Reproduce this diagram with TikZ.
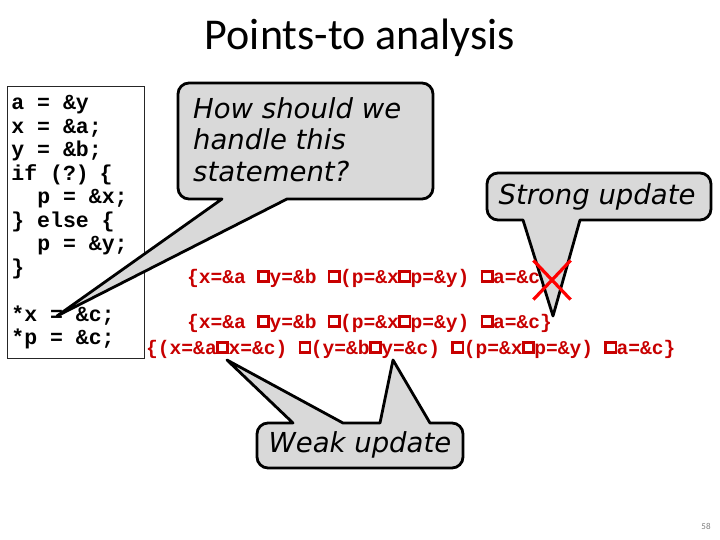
\documentclass[tikz,border=0pt]{standalone}
\usepackage{fontspec}
\setmainfont{Carlito}
\newfontfamily\codefont{Liberation Mono}
\newfontfamily\handfont{DejaVu Sans}
\usetikzlibrary{shapes.misc}

\definecolor{bubblegray}{RGB}{217,217,217}
\definecolor{setred}{RGB}{200,0,0}
% the empty square that stands for the missing glyph
\newcommand{\sq}{\makebox[0.6em][c]{\raisebox{0.14em}{\setlength{\fboxsep}{0pt}%
  \setlength{\fboxrule}{0.14em}\fbox{\rule{0pt}{0.38em}\hspace{0.38em}}}}}

\tikzset{
  codebox/.style={draw=black!85, line width=0.9pt, anchor=north west,
    text width=129pt, align=left, inner xsep=4pt, inner ysep=0pt,
    minimum height=272pt, font=\codefont\bfseries\fontsize{21.5}{23.5}\selectfont},
  setline/.style={text=setred, anchor=base west, inner sep=0pt,
    font=\codefont\bfseries\fontsize{19.6}{20}\selectfont},
  bubble/.style={draw=black, fill=bubblegray, line width=2.8pt, line join=round},
  handtext/.style={inner sep=0pt, font=\handfont\itshape\fontsize{27.5}{31.5}\selectfont},
  strike/.style={draw=red, cross out, line width=3.2pt, minimum width=34pt,
    minimum height=36pt, inner sep=0pt},
}

\begin{document}
\begin{tikzpicture}[x=1pt, y=-1pt]
    \path[use as bounding box, fill=white] (0,0) rectangle (720,540);

    % Nodes
    \node[font=\fontsize{44}{44}\selectfont, anchor=base] (title) at (360,50) {Points-to analysis};
    \node[codebox] (code) at (7,86) {\spaceskip=0.6em\relax
      a = \&y\\x = \&a;\\y = \&b;\\if (?) \{\\
      \hphantom{xx}p = \&x;\\\} else \{\\\hphantom{xx}p = \&y;\\\}\\[23.5pt]
      {}*x = \&c;\\{}*p = \&c;};
    \node[setline] (before) at (187,283) {\{x=\&a \sq y=\&b \sq(p=\&x\sq p=\&y) \sq a=\&c\}};
    \node[setline] (strongset) at (187,328) {\{x=\&a \sq y=\&b \sq(p=\&x\sq p=\&y) \sq a=\&c\}};
    \node[setline] (weakset) at (146,354) {\{(x=\&a\sq x=\&c) \sq(y=\&b\sq y=\&c) \sq(p=\&x\sq p=\&y) \sq a=\&c\}};

    % Tips
    \coordinate (xstore) at (57,316);
    \coordinate (lastc) at (553,316);
    \coordinate (xbox) at (227,360);
    \coordinate (ybox) at (393,360);

    % Bubbles
    \draw[bubble] (222,199) [rounded corners=11pt] -- (178,199) -- (178,83) -- (433,83)
      -- (433,199) [sharp corners] -- (287,199) -- (xstore) -- cycle;
    \draw[bubble] (523,220) [rounded corners=11pt] -- (487,220) -- (487,173) -- (711,173)
      -- (711,220) [sharp corners] -- (580,220) -- (lastc) -- cycle;
    \draw[bubble] (293,423) [rounded corners=11pt] -- (257,423) -- (257,468) -- (463,468)
      -- (463,423) [sharp corners] -- (430,423) -- (ybox) -- (380,423) -- (343,423)
      -- (xbox) -- cycle;

    \node[handtext, anchor=north west, align=left] (ask) at (193,97) {How should we\\handle this\\statement?};
    \node[handtext, anchor=base] (strong) at (597,205) {Strong update};
    \node[handtext, anchor=base] (weak) at (360,452) {Weak update};
    \node[strike] (kill) at (552,280) {};
    \node[text=gray, font=\fontsize{9}{9}\selectfont] (pageno) at (706,526) {58};
\end{tikzpicture}
\end{document}
